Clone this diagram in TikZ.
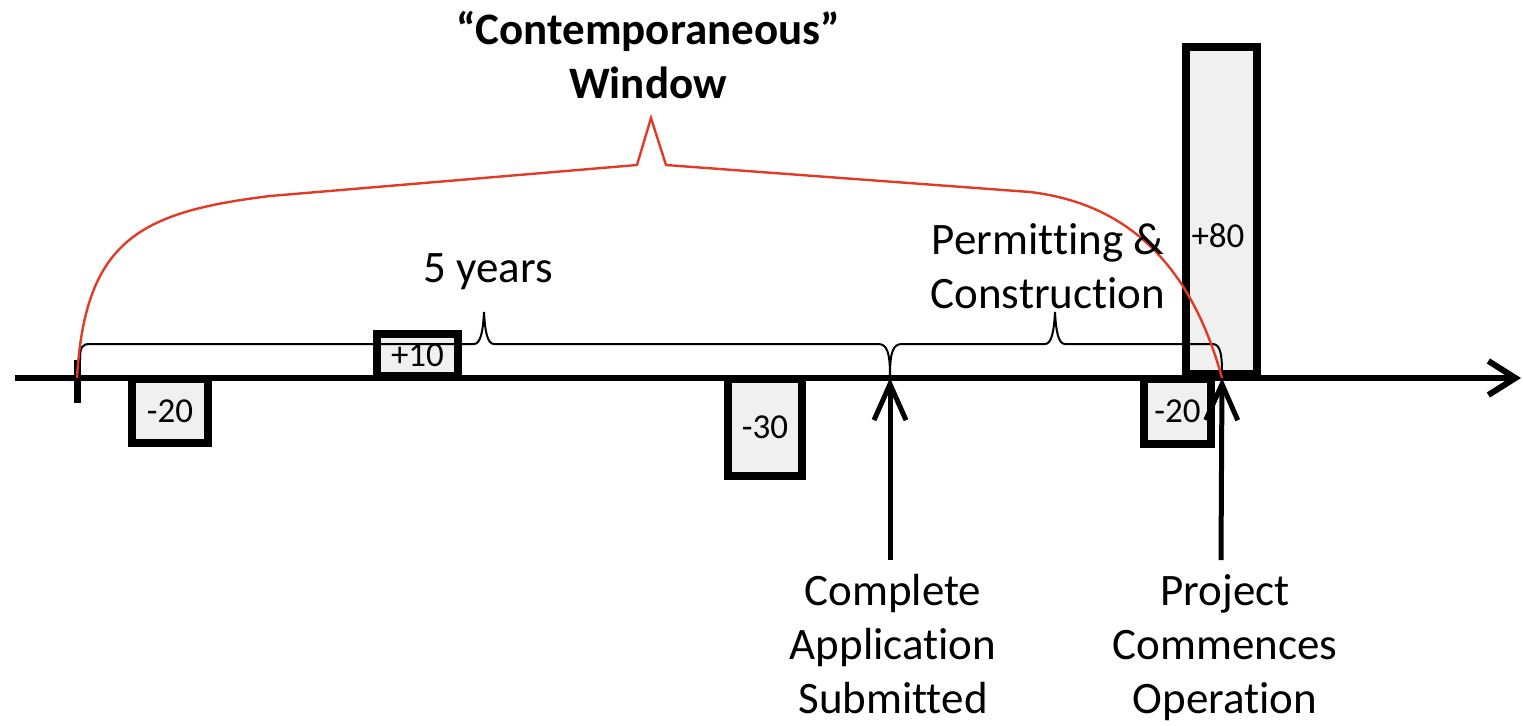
\documentclass[tikz,border=0pt]{standalone}
\usepackage{fontspec}
\setmainfont{Carlito}[Ligatures={NoCommon}]
\usetikzlibrary{arrows.meta}
\definecolor{boxfill}{RGB}{240,240,240}
\definecolor{windowred}{RGB}{226,58,38}
\begin{document}
\begin{tikzpicture}[x=0.5pt,y=-0.5pt,
  valbox/.style={draw=black, line width=4pt, fill=boxfill, inner sep=0pt,
    font=\fontsize{17.5}{21}\selectfont},
  axisline/.style={line width=3pt, -{Straight Barb[length=13.5pt,width=17pt]}},
  event/.style={line width=2.5pt, -{Straight Barb[length=18pt,width=16pt]}},
  brace/.style={line width=1pt},
  window/.style={draw=windowred, line width=1.2pt},
  lbl/.style={font=\fontsize{22.5}{27}\selectfont, inner sep=0pt, anchor=base, align=center},
  boldlbl/.style={lbl, font=\fontsize{22.5}{27}\selectfont\bfseries},
]
\useasboundingbox (0,0) rectangle (1523,725);

% time axis and start tick
\coordinate (axL) at (15,378);
\coordinate (axR) at (1521,378);
\coordinate (tickT) at (77,360);
\coordinate (tickB) at (77,403);
\draw[axisline] (axL) -- (axR);
\draw[line width=3.5pt] (tickT) -- (tickB);

% emission/offset boxes
\node[valbox, minimum width=38pt, minimum height=32pt] (m20a) at (170,411) {-20};
\node[valbox, minimum width=40.5pt, minimum height=21pt] (p10) at (417.5,355) {+10};
\node[valbox, minimum width=37pt, minimum height=48.5pt] (m30) at (765,427.5) {-30};
\node[valbox, minimum width=33.5pt, minimum height=32.5pt] (m20b) at (1177.5,411.5) {-20};
\node[valbox, minimum width=35.5pt, minimum height=163.5pt] (p80) at (1221.5,210.5) {};
\node[inner sep=0pt, anchor=base, font=\fontsize{17.5}{21}\selectfont] (p80t) at (1218,247) {+80};

% braces over the two periods
\draw[brace] (80,360) .. controls (80,347) and (82,344) .. (90,344)
  -- (474,344) .. controls (481,344) and (483,330) .. (484,312)
  .. controls (485,330) and (487,344) .. (494,344)
  -- (878,344) .. controls (887,344) and (890,352) .. (890,376);
\draw[brace] (890,376) .. controls (890,352) and (893,344) .. (902,344)
  -- (1045,344) .. controls (1052,344) and (1054,330) .. (1055,312)
  .. controls (1056,330) and (1058,344) .. (1065,344)
  -- (1212,344) .. controls (1219,344) and (1222,350) .. (1222,372);

% contemporaneous window
\coordinate (wS) at (77,378);
\coordinate (wE) at (1222,378);
\draw[window] (wS) .. controls (85,240) and (140,212) .. (270,196)
  -- (637,165) -- (651,118) -- (666,165) -- (1030,192)
  .. controls (1140,205) and (1195,280) .. (wE);

% milestones
\coordinate (appB) at (890,560);
\coordinate (appT) at (890,378);
\coordinate (opB) at (1221,560);
\coordinate (opT) at (1222,378);
\draw[event] (appB) -- (appT);
\draw[event] (opB) -- (opT);

% labels (anchored at the baseline of the last line)
\node[boldlbl] (title) at (648,98) {“Contemporaneous”\\Window};
\node[lbl] (yrs) at (488,282) {5 years};
\node[lbl] (pc) at (1048,308) {Permitting \&\\Construction};
\node[lbl] (app) at (893,713) {Complete\\Application\\Submitted};
\node[lbl] (op) at (1225,713) {Project\\Commences\\Operation};
\end{tikzpicture}
\end{document}
